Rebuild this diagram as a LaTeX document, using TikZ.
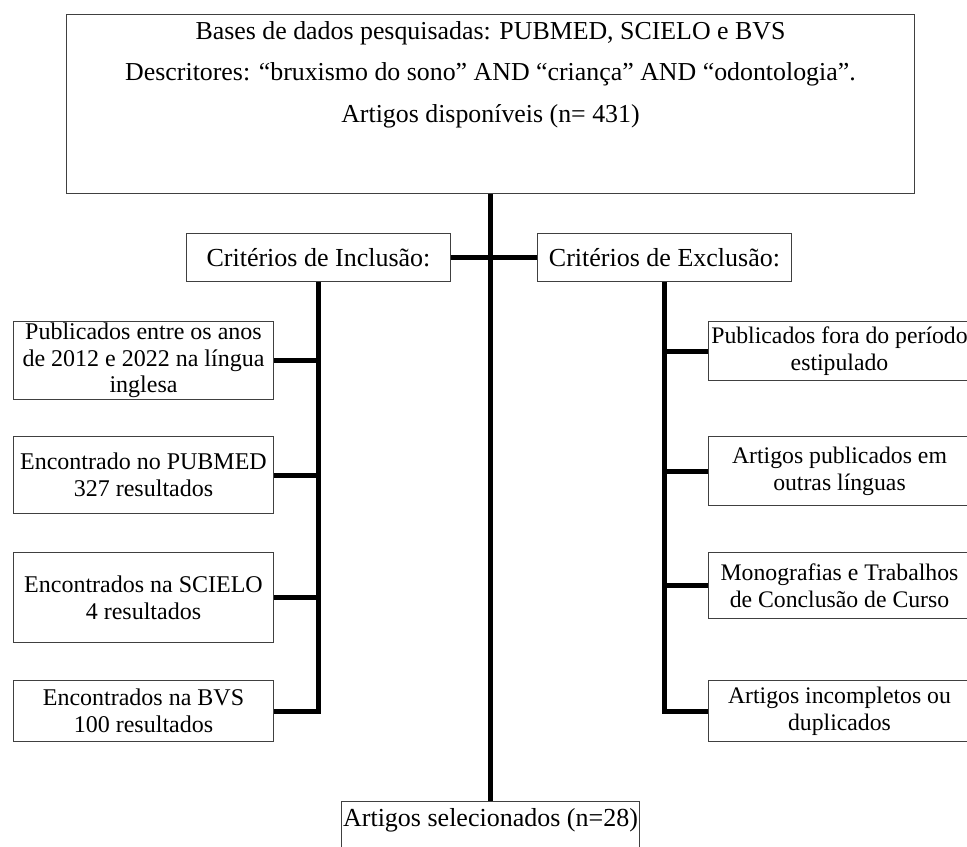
\documentclass[tikz,border=0pt]{standalone}
\usepackage{fontspec}
\setmainfont{Liberation Serif}
\usetikzlibrary{positioning}
\definecolor{fxedge}{RGB}{64,64,64}
\definecolor{fxline}{RGB}{0,0,0}
\tikzset{
  fxbox/.style={
    draw=fxedge, line width=0.75pt, fill=white,
    align=center, inner sep=1pt
  },
  topbox/.style={
    fxbox, font=\fontsize{19.4}{31}\selectfont, minimum width=636pt,
    inner ysep=0pt, text height=80.75pt, text depth=53.5pt
  },
  crit/.style={fxbox, font=\fontsize{19.5}{22}\selectfont, minimum height=36pt},
  lbox/.style={fxbox, font=\fontsize{18}{20}\selectfont, minimum width=195pt},
  rbox/.style={fxbox, font=\fontsize{17.8}{20}\selectfont, minimum width=196.5pt},
  selbox/.style={
    fxbox, font=\fontsize{19.5}{22}\selectfont, minimum width=222.75pt,
    inner ysep=2pt, text height=16.75pt, text depth=40pt
  },
  trunk/.style={draw=fxline, line width=3.75pt}
}

\begin{document}
\begin{tikzpicture}[x=0.75pt,y=-0.75pt]
  \useasboundingbox (0,0) rectangle (967,846);
  \fill[white] (0,0) rectangle (967,846);

  % search
  \node[topbox, anchor=north west] (bases) at (66,14)
    {Bases de dados pesquisadas: PUBMED, SCIELO e BVS\\
     Descritores: “bruxismo do sono” AND “criança” AND “odontologia”.\\
     Artigos disponíveis (n= 431)};
  \node[selbox, anchor=north] (sel) at (bases.south |- 0,801) {Artigos selecionados (n=28)};

  % criteria
  \node[crit, minimum width=198pt, anchor=north west] (incl) at (186,233) {Critérios de Inclusão:};
  \node[crit, minimum width=190.5pt, anchor=north west] (excl) at (537,233) {Critérios de Exclusão:};

  % inclusion side
  \node[lbox, minimum height=57.75pt, anchor=north west] (anos) at (13,321)
    {Publicados entre os anos\\de 2012 e 2022 na língua\\inglesa};
  \node[lbox, minimum height=57.75pt, anchor=north west] (pubmed) at (13,436)
    {Encontrado no PUBMED\\327 resultados};
  \node[lbox, minimum height=67.5pt, anchor=north west] (scielo) at (13,552)
    {Encontrados na SCIELO\\4 resultados};
  \node[lbox, minimum height=45.75pt, anchor=north west] (bvs) at (13,680)
    {Encontrados na BVS\\100 resultados};

  % exclusion side
  \node[rbox, minimum height=44.25pt, anchor=north west] (fora) at (708,321)
    {Publicados fora do período\\estipulado};
  \node[rbox, minimum height=51.75pt, anchor=north west] (linguas) at (708,436)
    {Artigos publicados em\\outras línguas};
  \node[rbox, minimum height=49.5pt, anchor=north west] (tcc) at (708,552)
    {Monografias e Trabalhos\\de Conclusão de Curso};
  \node[rbox, minimum height=45.75pt, anchor=north west] (dup) at (708,680)
    {Artigos incompletos ou\\duplicados};

  % connectors
  \draw[trunk] (bases.south) -- (sel.north);
  \draw[trunk] (incl.east) -- (excl.west);
  \draw[trunk] (incl.south) |- (bvs.east);
  \draw[trunk] (anos.east) -- (anos.east -| incl.south);
  \draw[trunk] (pubmed.east) -- (pubmed.east -| incl.south);
  \draw[trunk] (scielo.east) -- (scielo.east -| incl.south);
  \draw[trunk] (excl.south) |- (dup.west);
  \draw[trunk] (fora.west) -- (fora.west -| excl.south);
  \draw[trunk] (linguas.west) -- (linguas.west -| excl.south);
  \draw[trunk] (tcc.west) -- (tcc.west -| excl.south);
\end{tikzpicture}
\end{document}
